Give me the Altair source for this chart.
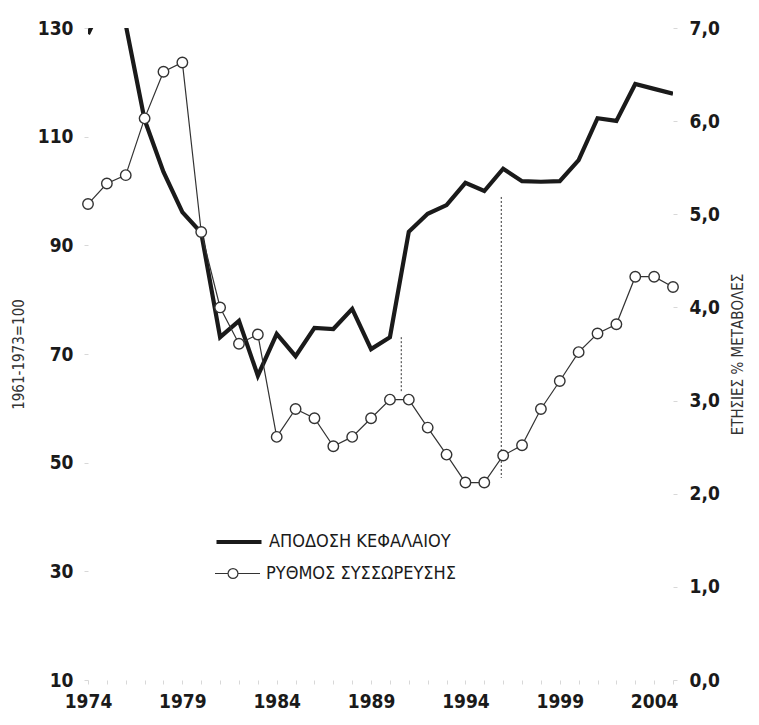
import altair as alt
import pandas as pd

# ---- data ----
years = list(range(1974, 2006))
capital_return = [128.9, 136.0, 130.6, 113.1, 103.5, 96.1, 92.3, 73.1, 76.1, 66.0,
                  73.7, 69.6, 74.8, 74.6, 78.3, 70.9, 73.1, 92.5, 95.8, 97.4,
                  101.5, 100.0, 104.1, 101.8, 101.7, 101.8, 105.7, 113.4, 112.9, 119.7,
                  118.8, 117.9]
accumulation = [5.11, 5.33, 5.42, 6.03, 6.53, 6.63, 4.81, 4.00, 3.61, 3.71,
                2.61, 2.91, 2.81, 2.51, 2.61, 2.81, 3.01, 3.01, 2.71, 2.42,
                2.12, 2.12, 2.41, 2.52, 2.91, 3.21, 3.52, 3.72, 3.82, 4.33,
                4.33, 4.22]
series_names = ["ΑΠΟΔΟΣΗ ΚΕΦΑΛΑΙΟΥ", "ΡΥΘΜΟΣ ΣΥΣΣΩΡΕΥΣΗΣ"]
marker_years = [1990.6, 1995.9]
marker_top = [73.1, 98.9]
marker_bottom = [62.8, 47.2]
left_ticks = [10, 30, 50, 70, 90, 110, 130]
right_ticks = [0, 1, 2, 3, 4, 5, 6, 7]
left_title = "1961-1973=100"
right_title = "ΕΤΗΣΙΕΣ % ΜΕΤΑΒΟΛΕΣ"

df = pd.DataFrame({"year": years, "capital": capital_return, "acc": accumulation})
df["s1"] = series_names[0]
df["s2"] = series_names[1]
marks = pd.DataFrame({"mx": marker_years, "my1": marker_top, "my2": marker_bottom})

F = "Liberation Sans Narrow, Arial Narrow, DejaVu Sans Condensed, sans-serif"
DARK = "#1a1a1a"
THIN = "#333333"
TICK_FS = 19
LEG_FS = 18

x_scale = alt.Scale(domain=[1974, 2005], nice=False, zero=False)
x_axis = alt.Axis(values=years, labelExpr="(datum.value - 1974) % 5 == 0 ? datum.label : ''",
                  format="d", title=None, domain=False, grid=False, tickColor="#d8d8d8",
                  tickSize=4, labelPadding=8, labelFont=F, labelFontSize=TICK_FS,
                  labelFontWeight="bold", labelColor=DARK, labelFlush=False, labelOverlap=False)

left_scale = alt.Scale(domain=[10, 130], nice=False, zero=False)
left_axis = alt.Axis(values=left_ticks, title=left_title, orient="left", domain=False, grid=False,
                     tickColor="#d8d8d8", tickSize=4, labelPadding=11, labelFont=F,
                     labelFontSize=TICK_FS, labelFontWeight="bold", labelColor=DARK,
                     titleFont=F, titleFontSize=15, titleFontWeight="normal",
                     titleColor=THIN, titlePadding=11)

right_scale = alt.Scale(domain=[0, 7], nice=False, zero=False)
right_axis = alt.Axis(values=right_ticks, title=right_title, orient="right", domain=False,
                      grid=False, tickColor="#d8d8d8", tickSize=4, labelPadding=12,
                      labelExpr="replace(format(datum.value, '.1f'), '.', ',')",
                      labelFont=F, labelFontSize=TICK_FS, labelFontWeight="bold", labelColor=DARK,
                      titleFont=F, titleFontSize=15, titleFontWeight="normal",
                      titleColor=THIN, titlePadding=11, titleAngle=270, titleBaseline="top")

circle_line_path = ("M-1,0L-0.42,0M0.02,0L1,0"
                    "M0.02,0A0.22,0.22,0,1,1,-0.42,0A0.22,0.22,0,1,1,0.02,0Z")

thick = alt.Chart(df).mark_line(strokeWidth=4.2, clip=True).encode(
    x=alt.X("year:Q", scale=x_scale, axis=x_axis, title=None),
    y=alt.Y("capital:Q", scale=left_scale, axis=left_axis),
    color=alt.Color("s1:N", scale=alt.Scale(domain=[series_names[0]], range=[DARK]),
                    legend=alt.Legend(title=None, orient="none", legendX=126, legendY=489,
                                      symbolType="stroke", symbolSize=2025,
                                      symbolStrokeWidth=4.2, labelFont=F, labelFontSize=LEG_FS,
                                      labelColor=DARK, labelOffset=5, labelLimit=0,
                                      padding=0)),
)

rules = alt.Chart(marks).mark_rule(strokeDash=[2, 2], strokeWidth=1, color=THIN).encode(
    x=alt.X("mx:Q", scale=x_scale, axis=x_axis, title=None),
    y=alt.Y("my1:Q", scale=left_scale, axis=left_axis),
    y2="my2:Q",
)

left_group = alt.layer(thick, rules)

thin = alt.Chart(df).mark_line(
    strokeWidth=1.2,
    point=alt.OverlayMarkDef(filled=False, fill="white", size=110, strokeWidth=1.4, opacity=1),
).encode(
    x=alt.X("year:Q", scale=x_scale, axis=x_axis, title=None),
    y=alt.Y("acc:Q", scale=right_scale, axis=right_axis),
    stroke=alt.Stroke("s2:N", scale=alt.Scale(domain=[series_names[1]], range=[THIN]),
                      legend=alt.Legend(title=None, orient="none", legendX=126, legendY=522,
                                        symbolType=circle_line_path, symbolSize=2025,
                                        symbolStrokeWidth=1.2, symbolFillColor="white",
                                        symbolStrokeColor=THIN, labelFont=F,
                                        labelFontSize=LEG_FS, labelColor=DARK, labelOffset=5,
                                        labelLimit=0, padding=0)),
)

chart = alt.layer(left_group, thin).resolve_scale(y="independent").properties(
    width=585, height=652,
    autosize=alt.AutoSizeParams(type="none"),
    padding={"left": 80, "top": 20, "right": 78, "bottom": 32},
    background="white",
).configure_view(stroke=None)

chart.save("out.html", embed_options={"renderer": "svg", "actions": False})
